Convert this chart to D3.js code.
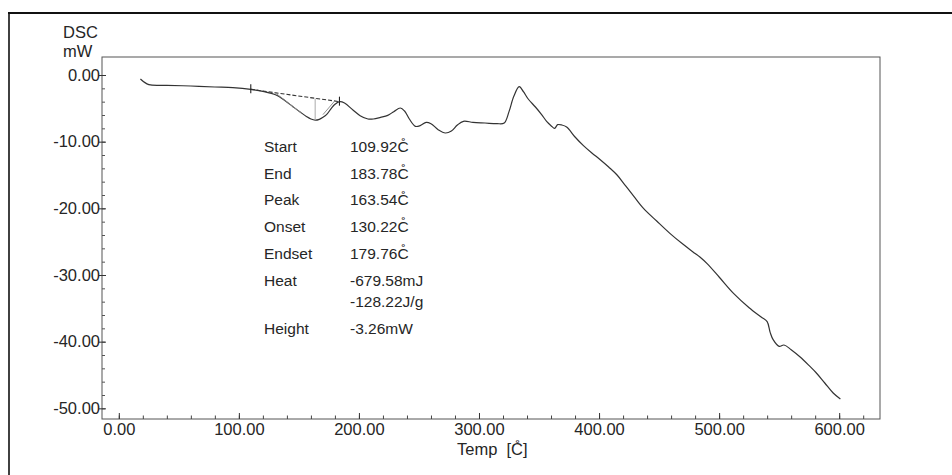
<!DOCTYPE html>
<html>
<head>
<meta charset="utf-8">
<script src="https://cdn.jsdelivr.net/npm/d3@7"></script>
<style>
  html, body { margin: 0; padding: 0; background: #fff; }
  svg { display: block; font-family: "Liberation Sans", Arial, sans-serif; }
</style>
</head>
<body>
<svg id="chart" width="952" height="475"></svg>
<script>
// DSC trace: temperature (°C) and heat flow (mW)
const tempC = [18, 25, 40, 60, 80, 95, 109.92, 120, 131, 138, 145, 151, 156.5, 160, 163.54, 167, 170, 173, 177, 180, 183.78,
  188, 195, 201, 207.5, 212, 218, 224, 229, 234.5, 238, 242, 247, 251, 256, 260, 266, 272, 277, 282, 287, 295, 305, 315,
  321, 325, 329, 333.5, 337, 341, 347, 352, 356.5, 360, 363, 365.5, 369, 373, 380, 387, 394, 401, 408, 415, 422, 429,
  437, 448, 459, 470, 478, 484, 490, 500, 512, 525, 535, 540, 542.5, 545, 550, 554, 560, 567.5, 575, 581, 588, 595, 601];
const dscMW = [-0.6, -1.45, -1.55, -1.65, -1.8, -1.9, -2.15, -2.45, -3.0, -3.8, -4.75, -5.55, -6.25, -6.6, -6.77, -6.65, -6.35, -5.95, -5.0, -4.4, -4.0,
  -4.2, -5.25, -6.1, -6.6, -6.6, -6.35, -6.05, -5.5, -4.95, -5.4, -6.6, -7.7, -7.6, -7.1, -7.3, -8.2, -8.7, -8.4, -7.5, -6.95, -7.1, -7.2, -7.3,
  -7.2, -5.5, -3.2, -1.75, -2.5, -3.6, -4.8, -5.9, -7.0, -7.6, -8.0, -7.45, -7.5, -7.8, -9.3, -10.6, -11.7, -12.7, -13.8, -15.0, -16.6, -18.2,
  -20.0, -21.9, -23.75, -25.4, -26.5, -27.3, -28.3, -30.3, -32.75, -34.9, -36.3, -37.0, -38.6, -39.7, -40.7, -40.5, -41.2, -42.3, -43.6, -44.7, -46.2, -47.7, -48.6];

// Peak analysis: integration baseline, tangents and peak height
const baselineTemp = [109.92, 183.78];
const baselineMW = [-2.15, -4.0];
const onsetTangentTemp = [130.22, 152];
const onsetTangentMW = [-2.66, -5.7];
const endsetTangentTemp = [170, 179.76];
const endsetTangentMW = [-5.95, -3.9];
const peakTemp = 163.54;
const peakMW = -6.77;
const peakBaseMW = -3.51;

// Analysis read-out (°C written with a combining ring above the C)
const degC = "C\u030A";
const infoLabels = ["Start", "End", "Peak", "Onset", "Endset", "Heat", "", "Height"];
const infoValues = ["109.92" + degC, "183.78" + degC, "163.54" + degC, "130.22" + degC, "179.76" + degC,
  "-679.58mJ", "-128.22J/g", "-3.26mW"];

// Axis ticks
const xMajorTicks = [0, 100, 200, 300, 400, 500, 600];
const xMinorTicks = d3.range(0, 621, 20);
const yMajorTicks = [0, -10, -20, -30, -40, -50];
const yMinorTicks = d3.range(0, -51, -2);

const svg = d3.select("#chart");
const ink = "#262626";

const plot = { left: 102, right: 880, top: 57, bottom: 419 };
const x = d3.scaleLinear().domain([-14, 634]).range([plot.left, plot.right]);
const y = d3.scaleLinear().domain([2.7, -51.6]).range([plot.top, plot.bottom]);

// Outer page frame
svg.append("line").attr("x1", 8).attr("x2", 952).attr("y1", 13).attr("y2", 13)
  .attr("stroke", "#111").attr("stroke-width", 2);
svg.append("line").attr("x1", 9).attr("x2", 9).attr("y1", 12).attr("y2", 475)
  .attr("stroke", "#111").attr("stroke-width", 1.6);

// Plot frame
svg.append("rect").attr("x", plot.left).attr("y", plot.top)
  .attr("width", plot.right - plot.left).attr("height", plot.bottom - plot.top)
  .attr("fill", "none").attr("stroke", "#555").attr("stroke-width", 1);

// Two decimals, plain hyphen for negatives
const fmt = v => v.toFixed(2);

// X axis: minor + major ticks pointing into the plot
svg.append("g").attr("transform", `translate(0,${plot.bottom})`)
  .call(d3.axisBottom(x).tickValues(xMinorTicks).tickSize(-3.5).tickFormat(""))
  .call(g => g.select(".domain").remove())
  .call(g => g.selectAll("line").attr("stroke", "#444"));
svg.append("g").attr("transform", `translate(0,${plot.bottom})`)
  .call(d3.axisBottom(x).tickValues(xMajorTicks).tickSizeInner(-6).tickSizeOuter(0).tickPadding(4).tickFormat(fmt))
  .call(g => g.select(".domain").remove())
  .call(g => g.selectAll("line").attr("stroke", "#333"))
  .call(g => g.selectAll("text").attr("fill", ink).attr("font-size", 16.5)
    .attr("font-family", "'Liberation Sans', Arial, sans-serif"));

// Y axis: labels on the left, ticks into the plot
svg.append("g").attr("transform", `translate(${plot.left},0)`)
  .call(d3.axisRight(y).tickValues(yMinorTicks).tickSize(3).tickFormat(""))
  .call(g => g.select(".domain").remove())
  .call(g => g.selectAll("line").attr("stroke", "#555"));
svg.append("g").attr("transform", `translate(${plot.left},0)`)
  .call(d3.axisRight(y).tickValues(yMajorTicks).tickSize(4).tickFormat(""))
  .call(g => g.select(".domain").remove())
  .call(g => g.selectAll("line").attr("stroke", "#333"));
svg.append("g").attr("transform", `translate(${plot.left},0)`)
  .call(d3.axisLeft(y).tickValues(yMajorTicks).tickSizeInner(3).tickSizeOuter(0).tickPadding(-1).tickFormat(fmt))
  .call(g => g.select(".domain").remove())
  .call(g => g.selectAll("line").attr("stroke", "#333"))
  .call(g => g.selectAll("text").attr("fill", ink).attr("font-size", 16.5)
    .attr("font-family", "'Liberation Sans', Arial, sans-serif"));

// Y axis title
svg.append("text").attr("x", 63).attr("y", 38).attr("font-size", 16.5).attr("fill", ink).text("DSC");
svg.append("text").attr("x", 63).attr("y", 57).attr("font-size", 16.5).attr("fill", ink).text("mW");

// X axis title
svg.append("text").attr("x", 457).attr("y", 455).attr("font-size", 16.5).attr("fill", ink)
  .attr("xml:space", "preserve").text("Temp  [" + degC + "]");

// DSC curve
const pts = tempC.map((t, i) => [t, dscMW[i]]);
const line = d3.line().x(d => x(d[0])).y(d => y(d[1])).curve(d3.curveCatmullRom.alpha(0.5));
svg.append("path").datum(pts).attr("d", line)
  .attr("fill", "none").attr("stroke", "#333").attr("stroke-width", 1.2).attr("stroke-linejoin", "round");

// Integration baseline (dashed)
const straight = d3.line().x(d => x(d[0])).y(d => y(d[1]));
svg.append("path").datum(baselineTemp.map((t, i) => [t, baselineMW[i]])).attr("d", straight)
  .attr("fill", "none").attr("stroke", "#333").attr("stroke-width", 1.1).attr("stroke-dasharray", "4,2");

// Onset / endset tangents
[[onsetTangentTemp, onsetTangentMW], [endsetTangentTemp, endsetTangentMW]].forEach(([ts, ms]) => {
  svg.append("path").datum(ts.map((t, i) => [t, ms[i]])).attr("d", straight)
    .attr("fill", "none").attr("stroke", "#888").attr("stroke-width", 0.9);
});

// Peak height drop line
svg.append("line").attr("x1", x(peakTemp)).attr("x2", x(peakTemp))
  .attr("y1", y(peakBaseMW)).attr("y2", y(peakMW))
  .attr("stroke", "#aaa").attr("stroke-width", 1);

// Start / end markers
baselineTemp.forEach((t, i) => {
  svg.append("line").attr("x1", x(t)).attr("x2", x(t))
    .attr("y1", y(baselineMW[i]) - 5).attr("y2", y(baselineMW[i]) + 4)
    .attr("stroke", "#222").attr("stroke-width", 1.1);
});

// Analysis read-out
const rowY = [152, 178.5, 205, 231.5, 258.5, 285.5, 307, 334];
infoLabels.forEach((lab, i) => {
  if (lab) svg.append("text").attr("x", 264).attr("y", rowY[i]).attr("font-size", 15.5).attr("fill", ink).text(lab);
  svg.append("text").attr("x", 350).attr("y", rowY[i]).attr("font-size", 15.5).attr("fill", ink).text(infoValues[i]);
});
</script>
</body>
</html>
